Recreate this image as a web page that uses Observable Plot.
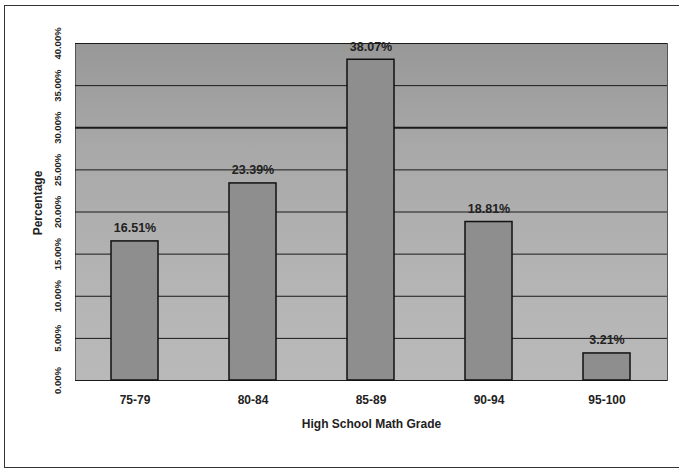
<!DOCTYPE html>
<html>
<head>
<meta charset="utf-8">
<script src="https://cdn.jsdelivr.net/npm/d3@7"></script>
<script src="https://cdn.jsdelivr.net/npm/@observablehq/plot@0.6"></script>
<style>
  body { margin: 0; background: #fff; }
  #wrap { position: relative; width: 679px; height: 470px; overflow: hidden; }
  #border { position: absolute; left: 4px; top: 5px; width: 678px; height: 463px; border: 1.5px solid #333; box-sizing: border-box; pointer-events: none; }
  svg, svg text { font-family: "Liberation Sans", Arial, sans-serif; }
</style>
</head>
<body>
<div id="wrap"><div id="border"></div></div>
<script>
const categories = ["75-79", "80-84", "85-89", "90-94", "95-100"];
const percentages = [16.51, 23.39, 38.07, 18.81, 3.21];
const yTicks = [0, 5, 10, 15, 20, 25, 30, 35, 40];

const data = categories.map((c, i) => ({grade: c, pct: percentages[i] / 100}));
const tickVals = yTicks.map(t => t / 100);

const chart = Plot.plot({
  width: 679,
  height: 470,
  marginLeft: 75,
  marginRight: 12,
  marginTop: 43,
  marginBottom: 90,
  style: {fontFamily: "Liberation Sans, Arial, sans-serif", background: "transparent"},
  x: {domain: categories, paddingInner: 0.6, paddingOuter: 0.3, label: null},
  y: {domain: [0, 0.40], label: null},
  marks: [
    Plot.frame({fill: "url(#bgGrad)", stroke: "#555", strokeWidth: 1}),
    Plot.ruleY(tickVals, {stroke: "#1a1a1a", strokeWidth: d => Math.abs(d - 0.30) < 1e-9 ? 2.2 : 1}),
    Plot.barY(data, {x: "grade", y: "pct", fill: "#8e8e8e", stroke: "#111", strokeWidth: 1.5}),
    Plot.text(data, {x: "grade", y: "pct", text: d => d3.format(".2%")(d.pct), lineAnchor: "bottom", dy: -9, fontSize: 12.5, fontWeight: "bold", fill: "#222"}),
    Plot.axisY({ticks: tickVals, tickFormat: d3.format(".2%"), tickRotate: -90, tickSize: 0, tickPadding: 15, fontSize: 9.5, fontWeight: "bold", fill: "#222",
      label: "Percentage", labelArrow: "none", labelAnchor: "center", labelOffset: 42}),
    Plot.axisX({tickSize: 0, tickPadding: 15, fontSize: 12, fontWeight: "bold", fill: "#222",
      label: "High School Math Grade", labelArrow: "none", labelAnchor: "center", labelOffset: 47}),
  ]
});

const defs = d3.select(chart).insert("defs", ":first-child");
const g = defs.append("linearGradient").attr("id", "bgGrad").attr("x1", 0).attr("y1", 0).attr("x2", 0).attr("y2", 1);
g.append("stop").attr("offset", "0%").attr("stop-color", "#989898");
g.append("stop").attr("offset", "30%").attr("stop-color", "#a8a8a8");
g.append("stop").attr("offset", "70%").attr("stop-color", "#b4b4b4");
g.append("stop").attr("offset", "100%").attr("stop-color", "#b9b9b9");

const labels = d3.select(chart).selectAll("[aria-label='y-axis label'] text, [aria-label='x-axis label'] text");
labels.style("font-weight", "bold").style("font-size", "12px").attr("fill", "#222")
  .text(function() { return this.textContent.replace(/[↑→←↓]/g, "").trim(); });
const yl = d3.select(chart).select("[aria-label='y-axis label']");
yl.attr("transform", (yl.attr("transform") || "") + " translate(0,-9)");

document.getElementById("wrap").prepend(chart);
</script>
</body>
</html>
